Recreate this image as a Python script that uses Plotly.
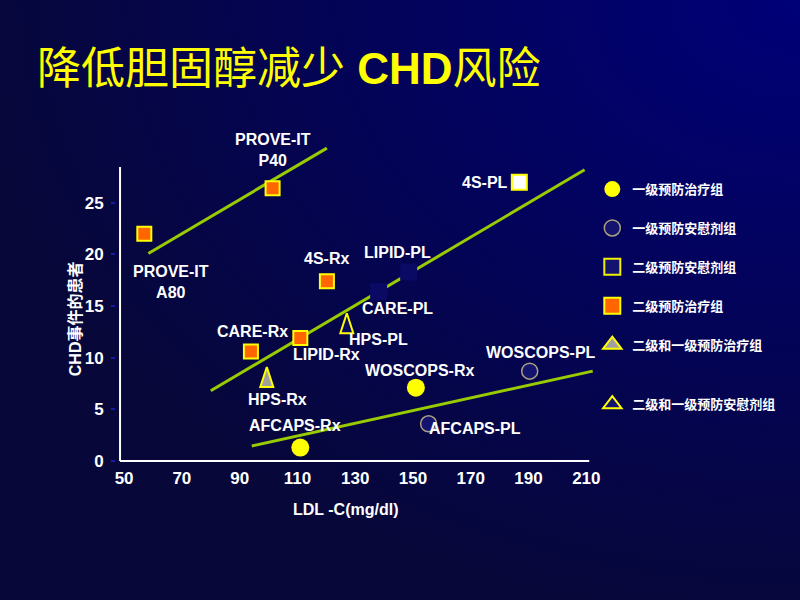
import base64
import plotly.graph_objects as go

# ---------------- data ----------------
# 一级预防治疗组 (primary prevention, statin)
prim_rx_names = ["WOSCOPS-Rx", "AFCAPS-Rx"]
prim_rx_ldl = [151.0, 111.0]
prim_rx_chd = [7.1, 1.3]

# 一级预防安慰剂组 (primary prevention, placebo)
prim_pl_names = ["WOSCOPS-PL", "AFCAPS-PL"]
prim_pl_ldl = [190.4, 155.4]
prim_pl_chd = [8.7, 3.6]

# 二级预防安慰剂组 (secondary prevention, placebo)
sec_pl_names = ["4S-PL", "LIPID-PL", "CARE-PL"]
sec_pl_ldl = [186.8, 148.5, 138.1]
sec_pl_chd = [27.0, 18.3, 16.4]

# 二级预防治疗组 (secondary prevention, statin)
sec_rx_names = ["PROVE-IT A80", "PROVE-IT P40", "4S-Rx", "CARE-Rx", "LIPID-Rx"]
sec_rx_ldl = [57.0, 101.4, 120.2, 93.9, 111.0]
sec_rx_chd = [22.0, 26.4, 17.4, 10.6, 11.9]

# 二级和一级预防 (HPS)
hps_rx_names = ["HPS-Rx"]
hps_rx_ldl = [99.4]
hps_rx_chd = [9.1]
hps_pl_names = ["HPS-PL"]
hps_pl_ldl = [127.1]
hps_pl_chd = [14.3]

# trend lines (end points)
fit_prove_ldl = [58.4, 120.2]
fit_prove_chd = [20.1, 30.3]
fit_sec_ldl = [80.0, 209.4]
fit_sec_chd = [6.8, 28.2]
fit_prim_ldl = [94.2, 212.2]
fit_prim_chd = [1.45, 8.7]

x_ticks = [50, 70, 90, 110, 130, 150, 170, 190, 210]
y_ticks = [0, 5, 10, 15, 20, 25]

legend_labels = ["一级预防治疗组", "一级预防安慰剂组", "二级预防安慰剂组",
                 "二级预防治疗组", "二级和一级预防治疗组", "二级和一级预防安慰剂组"]

title_text = "降低胆固醇减少 <b>CHD</b>风险"
x_title = "LDL -C(mg/dl)"
y_title = "<b>CHD</b>事件的患者"

display_text = {"PROVE-IT A80": "PROVE-IT<br>A80", "PROVE-IT P40": "PROVE-IT<br>P40"}

# label offsets in px (dx right, dy down) relative to the marker
label_offsets = {
    "PROVE-IT A80": (27, 48), "PROVE-IT P40": (0, -38), "4S-Rx": (0, -23),
    "CARE-Rx": (2, -20), "LIPID-Rx": (26, 16), "HPS-Rx": (11, 32),
    "AFCAPS-Rx": (-5, -22), "HPS-PL": (32, 26), "CARE-PL": (19, 17),
    "LIPID-PL": (-11, -20), "4S-PL": (-9, 0), "WOSCOPS-Rx": (4, -17),
    "WOSCOPS-PL": (11, -19), "AFCAPS-PL": (46, 5),
}

# ---------------- layout geometry ----------------
W_FIG, H_FIG = 800, 600
M_L, M_R, M_T, M_B = 116, 205.3, 144.9, 135.3
X_RANGE = [47.2, 213.0]
Y_RANGE = [-0.39, 30.6]
AXIS_X0 = 48.6
AXIS_X1 = 211.0
AXIS_Y1 = 28.46
PW = W_FIG - M_L - M_R
PH = H_FIG - M_T - M_B
PB = H_FIG - M_B


def px_x(px):
    return (px - M_L) / PW


def px_y(py):
    return (PB - py) / PH


YEL = "#ffff00"
ORANGE = "#ff6600"
GREEN = "#99cc00"
LBL_FONT = dict(family="Liberation Sans, Arial, sans-serif", size=16, color="white", weight="bold")

fig = go.Figure()

# trend lines
for lx, ly in [(fit_prove_ldl, fit_prove_chd), (fit_sec_ldl, fit_sec_chd), (fit_prim_ldl, fit_prim_chd)]:
    fig.add_trace(go.Scatter(x=lx, y=ly, mode="lines", line=dict(color=GREEN, width=3),
                             showlegend=False, hoverinfo="skip"))

# markers
fig.add_trace(go.Scatter(x=prim_rx_ldl, y=prim_rx_chd, mode="markers", text=prim_rx_names,
                         marker=dict(symbol="circle", size=18, color=YEL, opacity=1, line=dict(width=0)),
                         showlegend=False))
fig.add_trace(go.Scatter(x=prim_pl_ldl, y=prim_pl_chd, mode="markers", text=prim_pl_names,
                         marker=dict(symbol="circle", size=16, color="#14146e", opacity=1,
                                     line=dict(width=1.5, color="#a8a080")),
                         showlegend=False))
fig.add_trace(go.Scatter(x=sec_pl_ldl, y=sec_pl_chd, mode="markers", text=sec_pl_names,
                         marker=dict(symbol="square", size=[15, 17, 17], opacity=1,
                                     color=["#ffffff", "#0a0a64", "#0a0a64"],
                                     line=dict(width=[2, 0, 0], color=YEL)),
                         showlegend=False))
fig.add_trace(go.Scatter(x=sec_rx_ldl, y=sec_rx_chd, mode="markers", text=sec_rx_names,
                         marker=dict(symbol="square", size=14, color=ORANGE, opacity=1,
                                     line=dict(width=2, color=YEL)),
                         showlegend=False))
fig.add_trace(go.Scatter(x=hps_rx_ldl, y=hps_rx_chd, mode="markers", text=hps_rx_names,
                         marker=dict(symbol="arrow", size=21, color="#a0a0a0", opacity=1,
                                     line=dict(width=2, color=YEL)),
                         showlegend=False))
fig.add_trace(go.Scatter(x=hps_pl_ldl, y=hps_pl_chd, mode="markers", text=hps_pl_names,
                         marker=dict(symbol="arrow", size=21, color="#0a0a60", opacity=1,
                                     line=dict(width=2, color=YEL)),
                         showlegend=False))

# legend-only traces
leg_styles = [
    dict(symbol="circle", size=16, color=YEL, line=dict(width=0)),
    dict(symbol="circle", size=16, color="#14146e", line=dict(width=1.5, color="#a8a080")),
    dict(symbol="square", size=16, color="#14146e", line=dict(width=2, color="#f0f000")),
    dict(symbol="square", size=16, color=ORANGE, line=dict(width=2, color=YEL)),
    dict(symbol="triangle-up", size=16, color="#a0a0a0", line=dict(width=2, color=YEL)),
    dict(symbol="triangle-up", size=16, color="#14146e", line=dict(width=2, color=YEL)),
]
for i, (lab, st) in enumerate(zip(legend_labels, leg_styles)):
    fig.add_trace(go.Scatter(x=[None], y=[None], mode="markers", name="<b>" + lab + "</b>",
                             marker=st, legendgroup="g%d" % i,
                             legend="legend" if i < 5 else "legend2"))

# point labels
all_names = prim_rx_names + prim_pl_names + sec_pl_names + sec_rx_names + hps_rx_names + hps_pl_names
all_ldl = prim_rx_ldl + prim_pl_ldl + sec_pl_ldl + sec_rx_ldl + hps_rx_ldl + hps_pl_ldl
all_chd = prim_rx_chd + prim_pl_chd + sec_pl_chd + sec_rx_chd + hps_rx_chd + hps_pl_chd
annotations = []
for nm, lx, ly in zip(all_names, all_ldl, all_chd):
    dx, dy = label_offsets[nm]
    annotations.append(dict(x=lx, y=ly, xref="x", yref="y", text=display_text.get(nm, nm),
                            showarrow=False, xshift=dx, yshift=-dy,
                            xanchor="right" if nm == "4S-PL" else "center",
                            yanchor="middle", align="center", font=LBL_FONT))

# title and axis titles
annotations.append(dict(x=px_x(35), y=px_y(68), xref="paper", yref="paper", text=title_text,
                        showarrow=False, xanchor="left", yanchor="middle",
                        font=dict(family="Liberation Sans, Noto Sans CJK SC, sans-serif",
                                  size=44, color=YEL)))
annotations.append(dict(x=px_x(345), y=px_y(509), xref="paper", yref="paper", text=x_title,
                        showarrow=False, xanchor="center", yanchor="middle", font=LBL_FONT))
annotations.append(dict(x=px_x(75), y=px_y(318), xref="paper", yref="paper", text=y_title,
                        showarrow=False, textangle=-90, xanchor="center", yanchor="middle",
                        font=dict(family="Liberation Sans, Noto Sans CJK SC, sans-serif",
                                  size=16, color="white", weight="bold")))

# axis lines as shapes
shapes = [
    dict(type="line", xref="x", yref="y", x0=AXIS_X0, x1=AXIS_X0, y0=0, y1=AXIS_Y1,
         line=dict(color="white", width=2), layer="below"),
    dict(type="line", xref="x", yref="y", x0=AXIS_X0, x1=AXIS_X1, y0=0, y1=0,
         line=dict(color="white", width=2), layer="below"),
]

# background gradient
svg = ('<svg xmlns="http://www.w3.org/2000/svg" width="800" height="600" viewBox="0 0 800 600" '
       'preserveAspectRatio="none"><defs><radialGradient id="g" gradientUnits="userSpaceOnUse" '
       'cx="800" cy="0" r="830" gradientTransform="translate(800 0) scale(1 0.75) translate(-800 0)">'
       '<stop offset="0" stop-color="#000078"/><stop offset="0.5" stop-color="#03035a"/>'
       '<stop offset="1" stop-color="#07073a"/></radialGradient></defs>'
       '<rect width="800" height="600" fill="url(#g)"/></svg>')
svg_uri = "data:image/svg+xml;base64," + base64.b64encode(svg.encode()).decode()

fig.update_layout(
    width=W_FIG, height=H_FIG,
    margin=dict(l=M_L, r=M_R, t=M_T, b=M_B, pad=0),
    paper_bgcolor="#05054a", plot_bgcolor="rgba(0,0,0,0)",
    images=[dict(source=svg_uri, xref="paper", yref="paper", x=px_x(0), y=px_y(0),
                 sizex=W_FIG / PW, sizey=H_FIG / PH, sizing="stretch",
                 xanchor="left", yanchor="top", layer="below")],
    xaxis=dict(range=X_RANGE, tickvals=x_ticks, ticktext=[str(v) for v in x_ticks],
               showgrid=False, zeroline=False, showline=False, ticks="",
               tickfont=dict(family="Liberation Sans, Arial", size=17, color="white", weight="bold"),
               ticklabelstandoff=1),
    yaxis=dict(range=Y_RANGE, tickvals=y_ticks, ticktext=[str(v) for v in y_ticks],
               showgrid=False, zeroline=False, showline=False, ticks="outside", ticklen=4,
               tickwidth=2, tickcolor="#1a1aa0",
               tickfont=dict(family="Liberation Sans, Arial", size=17, color="white", weight="bold"),
               ticklabelstandoff=4),
    legend=dict(x=px_x(592), y=px_y(174), xanchor="left", yanchor="top",
                bgcolor="rgba(0,0,0,0)", traceorder="grouped", tracegroupgap=19,
                font=dict(family="Noto Sans CJK SC", size=13, color="white")),
    legend2=dict(x=px_x(592), y=px_y(389), xanchor="left", yanchor="top",
                 bgcolor="rgba(0,0,0,0)",
                 font=dict(family="Noto Sans CJK SC", size=13, color="white")),
    annotations=annotations,
    shapes=shapes,
    showlegend=True,
    hovermode=False,
)

fig.write_html("out.html")
